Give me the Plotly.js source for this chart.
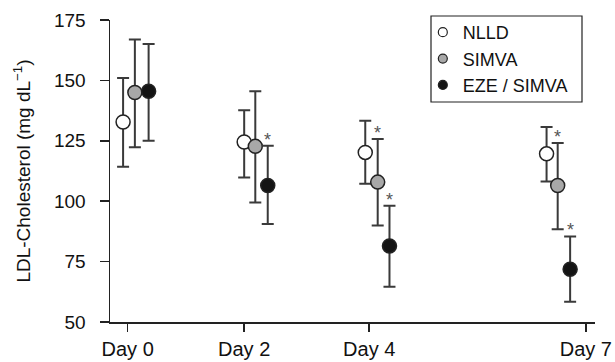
<!DOCTYPE html>
<html>
<head>
<meta charset="utf-8">
<script src="https://cdn.plot.ly/plotly-3.0.1.min.js"></script>
<style>html,body{margin:0;padding:0;background:#fff;}#chart{width:615px;height:362px;}</style>
</head>
<body>
<div id="chart"></div>
<script>
// Tick positions / labels on the x axis
var tickPos = [0, 1.78, 3.69, 7.0];
var tickLabels = ["Day 0", "Day 2", "Day 4", "Day 7"];

// Horizontal placement of each group's markers (offset around each day)
var xNLLD  = [-0.07, 1.78, 3.63, 6.40];
var xSIMVA = [0.11, 1.95, 3.82, 6.57];
var xEZE   = [0.32, 2.14, 4.00, 6.76];

// Mean LDL-cholesterol (mg/dL)
var yNLLD  = [132.8, 124.5, 120.2, 119.6];
var ySIMVA = [145.0, 122.7, 107.9, 106.5];
var yEZE   = [145.5, 106.5, 81.5, 71.8];

// Error bar ends
var upNLLD  = [151.0, 137.6, 133.3, 130.7];
var loNLLD  = [114.3, 109.8, 107.2, 108.2];
var upSIMVA = [166.9, 145.5, 125.7, 124.1];
var loSIMVA = [122.3, 99.5, 89.9, 88.4];
var upEZE   = [165.1, 123.0, 98.1, 85.4];
var loEZE   = [125.0, 90.6, 64.6, 58.4];

// Significance markers (indices of days)
var sigSIMVA = [2, 3];
var sigEZE = [1, 2, 3];

function diff(a, b) { return a.map(function(v, i){ return v - b[i]; }); }

var errColor = '#3a3a3a';
function mk(name, x, y, up, lo, fill) {
  return {
    type: 'scatter', mode: 'markers', name: name, x: x, y: y, showlegend: false,
    marker: {size: 14, color: fill, line: {color: '#222', width: 1.5}},
    error_y: {type: 'data', symmetric: false, array: diff(up, y), arrayminus: diff(y, lo),
              color: errColor, thickness: 2, width: 6}
  };
}
function lg(name, fill) {
  return {type: 'scatter', mode: 'markers', name: name, x: [null], y: [null], showlegend: true,
    marker: {size: 9, color: fill, line: {color: '#222', width: 1.2}}};
}

var data = [
  mk('NLLD', xNLLD, yNLLD, upNLLD, loNLLD, '#ffffff'),
  mk('SIMVA', xSIMVA, ySIMVA, upSIMVA, loSIMVA, '#a8a8a8'),
  mk('EZE / SIMVA', xEZE, yEZE, upEZE, loEZE, '#141414'),
  lg('NLLD', '#ffffff'), lg('SIMVA', '#a8a8a8'), lg('EZE / SIMVA', '#141414')
];

var fam = 'Liberation Sans, Arial, Helvetica, sans-serif';
var annotations = [];
function star(x, y) {
  annotations.push({x: x, y: y, text: '*', showarrow: false, yanchor: 'bottom', yshift: -6,
    font: {family: fam, size: 18, color: '#555'}});
}
sigSIMVA.forEach(function(i){ star(xSIMVA[i], upSIMVA[i]); });
sigEZE.forEach(function(i){ star(xEZE[i], upEZE[i]); });

var font = {family: fam, size: 18, color: '#111'};
var layout = {
  width: 615, height: 362,
  margin: {l: 110, r: 20, t: 20, b: 40, pad: 0},
  paper_bgcolor: '#fff', plot_bgcolor: '#fff',
  font: font,
  showlegend: true,
  legend: {x: 0.645, y: 1.02, xanchor: 'left', yanchor: 'top', bgcolor: 'rgba(0,0,0,0)',
           borderwidth: 0, font: font, itemwidth: 30, tracegroupgap: 0},
  shapes: [{type: 'rect', xref: 'paper', yref: 'paper', x0: (431-110)/485, x1: (582-110)/485,
            y0: (322-102)/302, y1: (322-16)/302, line: {color: '#222', width: 1.2}}],
  xaxis: {
    range: [-0.27, 7.14], showgrid: false, zeroline: false,
    showline: true, linecolor: '#222', linewidth: 1.5,
    tickmode: 'array', tickvals: tickPos, ticktext: tickLabels,
    ticks: 'outside', ticklen: 8, tickwidth: 1.5, tickcolor: '#222',
    tickfont: {family: fam, size: 20, color: '#111'}, fixedrange: true
  },
  yaxis: {
    range: [50, 175], showgrid: false, zeroline: false,
    showline: true, linecolor: '#222', linewidth: 1.5,
    tickmode: 'array', tickvals: [50, 75, 100, 125, 150, 175],
    ticks: 'outside', ticklen: 9, tickwidth: 1.5, tickcolor: '#222',
    ticklabelstandoff: 10,
    tickfont: {family: fam, size: 19, color: '#111'},
    title: {text: 'LDL-Cholesterol (mg dL<sup>\u22121</sup>)', font: {family: fam, size: 19, color: '#111'}, standoff: 18},
    fixedrange: true
  },
  annotations: annotations
};

Plotly.newPlot('chart', data, layout, {staticPlot: true, displayModeBar: false});
</script>
</body>
</html>
